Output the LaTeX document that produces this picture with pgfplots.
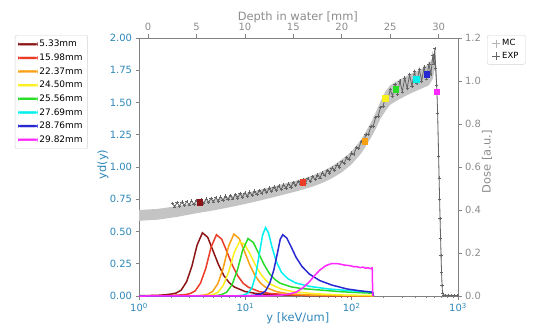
\documentclass[border=0pt]{standalone}
\usepackage{fontspec}
\setmainfont{DejaVu Sans}
\usepackage{pgfplots}
\pgfplotsset{compat=1.18}
\definecolor{tickblue}{RGB}{45,135,185}
\definecolor{spine}{RGB}{130,130,130}
\definecolor{labgray}{RGB}{140,140,140}
\definecolor{bandgray}{RGB}{196,196,196}
\definecolor{expgray}{RGB}{100,100,100}
\definecolor{legbox}{RGB}{210,210,210}
\definecolor{specDR}{RGB}{140,22,22}
\definecolor{specR}{RGB}{235,60,40}
\definecolor{specO}{RGB}{250,160,20}
\definecolor{specY}{RGB}{250,240,30}
\definecolor{specG}{RGB}{40,220,40}
\definecolor{specC}{RGB}{0,240,240}
\definecolor{specB}{RGB}{40,40,210}
\definecolor{specM}{RGB}{255,40,255}
\begin{document}
\begin{tikzpicture}[x=1bp,y=1bp]
\path[use as bounding box] (0,0) rectangle (537,324);
\begin{axis}[
  at={(139bp,28bp)}, anchor=south west, scale only axis,
  width=319bp, height=258bp,
  xmode=log, xmin=1, xmax=1000, ymin=0, ymax=2,
  axis line style={spine, line width=0.8bp},
  xtick pos=left, ytick pos=left,
  tick align=outside,
  major tick length=3.5bp, minor tick length=2bp,
  every tick/.style={spine, line width=0.6bp},
  xtick={1,10,100,1000},
  xticklabels={10\textsuperscript{0},10\textsuperscript{1},10\textsuperscript{2},10\textsuperscript{3}},
  minor xtick={2,3,4,5,6,7,8,9,20,30,40,50,60,70,80,90,200,300,400,500,600,700,800,900},
  ytick={0,0.25,0.5,0.75,1,1.25,1.5,1.75,2},
  /pgf/number format/assume math mode=true,
  yticklabel style={/pgf/number format/fixed, /pgf/number format/fixed zerofill, /pgf/number format/precision=2, color=tickblue},
  xticklabel style={color=tickblue},
  tick label style={font=\fontsize{10}{12}\selectfont},
  xlabel={y [keV/um]}, ylabel={yd(y)},
  label style={font=\fontsize{11.5}{13}\selectfont, color=tickblue},
  xlabel style={at={(axis description cs:0.498,-0.088)}, anchor=center},
  ylabel style={at={(axis description cs:-0.113,0.51)}, anchor=center, rotate=0},
  legend cell align=left,
  legend image code/.code={\fill (0bp,-0.95bp) rectangle (19bp,0.95bp);},
  legend style={at={(-0.389,1.0116)}, anchor=north west, draw=legbox, rounded corners=2bp,
    font=\fontsize{9}{10.5}\selectfont, row sep=1.5bp, inner xsep=3bp, inner ysep=3bp},
]
\addlegendimage{color=specDR}\addlegendentry{5.33mm}
\addlegendimage{color=specR}\addlegendentry{15.98mm}
\addlegendimage{color=specO}\addlegendentry{22.37mm}
\addlegendimage{color=specY}\addlegendentry{24.50mm}
\addlegendimage{color=specG}\addlegendentry{25.56mm}
\addlegendimage{color=specC}\addlegendentry{27.69mm}
\addlegendimage{color=specB}\addlegendentry{28.76mm}
\addlegendimage{color=specM}\addlegendentry{29.82mm}
\addplot[draw=specDR, line width=1.5bp, forget plot] coordinates {(1,0.002) (1.5,0.005) (1.8,0.01) (2.0,0.015) (2.22,0.022) (2.49,0.045) (2.80,0.11) (3.14,0.23) (3.52,0.395) (3.95,0.49) (4.43,0.455) (4.97,0.35) (5.58,0.245) (6.26,0.16) (7.02,0.105) (7.88,0.07) (9.92,0.035) (12.5,0.02) (19.8,0.008) (40,0.003) (100,0.001) (160,0)};
\addplot[draw=specR, line width=1.5bp, forget plot] coordinates {(1,0.001) (2,0.004) (2.68,0.01) (3.01,0.018) (3.38,0.04) (3.79,0.10) (4.25,0.215) (4.77,0.38) (5.35,0.475) (6.0,0.44) (6.74,0.34) (7.56,0.237) (8.48,0.157) (9.51,0.10) (10.67,0.068) (13.44,0.035) (16.92,0.02) (26.8,0.008) (60,0.003) (160,0)};
\addplot[draw=specO, line width=1.5bp, forget plot] coordinates {(1,0) (3.5,0.002) (3.91,0.005) (4.38,0.012) (4.92,0.035) (5.52,0.096) (6.19,0.216) (6.95,0.384) (7.8,0.48) (8.75,0.446) (9.82,0.346) (11.02,0.24) (12.36,0.158) (13.87,0.10) (15.56,0.067) (19.59,0.034) (24.66,0.019) (39.1,0.008) (80,0.003) (160,0)};
\addplot[draw=specY, line width=1.5bp, forget plot] coordinates {(1,0) (4.0,0.002) (4.41,0.004) (4.95,0.01) (5.55,0.03) (6.23,0.085) (6.99,0.19) (7.84,0.335) (8.8,0.42) (9.87,0.40) (11.08,0.325) (12.43,0.24) (13.95,0.17) (15.65,0.12) (17.56,0.088) (22.1,0.052) (27.8,0.035) (44.1,0.018) (80,0.008) (150,0.004) (160,0)};
\addplot[draw=specG, line width=1.5bp, forget plot] coordinates {(1,0) (4.8,0.001) (5.31,0.003) (5.96,0.01) (6.69,0.03) (7.50,0.088) (8.42,0.20) (9.44,0.356) (10.6,0.445) (11.89,0.415) (13.35,0.33) (14.98,0.245) (16.8,0.175) (18.85,0.13) (21.15,0.10) (26.6,0.072) (33.5,0.058) (53.1,0.045) (80,0.033) (120,0.026) (155,0.022) (160,0)};
\addplot[draw=specC, line width=1.5bp, forget plot] coordinates {(1,0) (8,0.001) (9.5,0.006) (10.5,0.02) (11.5,0.06) (12.5,0.16) (13.5,0.32) (14.5,0.47) (15.5,0.53) (16.5,0.49) (17.8,0.38) (19.5,0.27) (21.8,0.185) (25,0.135) (30,0.10) (40,0.075) (60,0.055) (100,0.04) (150,0.032) (157,0.03) (160,0)};
\addplot[draw=specB, line width=1.5bp, forget plot] coordinates {(1,0) (10,0.001) (12,0.005) (14,0.015) (15.5,0.04) (17,0.10) (18.5,0.2) (20,0.33) (21.3,0.44) (22.5,0.475) (24.5,0.45) (27,0.38) (30,0.30) (34,0.23) (40,0.17) (50,0.12) (65,0.085) (90,0.055) (120,0.04) (155,0.03) (158,0.028) (160,0)};
\addplot[draw=specM, line width=1.5bp, forget plot] coordinates {(1,0) (15,0.001) (20,0.004) (25,0.012) (30,0.03) (35,0.065) (40,0.11) (45,0.16) (50,0.20) (57,0.235) (65,0.252) (75,0.25) (85,0.24) (95,0.236) (100,0.232) (105,0.226) (110,0.229) (120,0.22) (128,0.224) (135,0.215) (142,0.219) (150,0.212) (156,0.218) (157,0.10) (158,0)};
\end{axis}
\begin{axis}[
  at={(139bp,28bp)}, anchor=south west, scale only axis,
  width=319bp, height=258bp,
  xmin=-0.93, xmax=32, ymin=0, ymax=1.2,
  axis x line*=top, axis y line*=right,
  axis line style={spine, line width=0.8bp},
  tick align=outside,
  major tick length=3.5bp,
  every tick/.style={spine, line width=0.6bp},
  xtick={0,5,10,15,20,25,30},
  ytick={0,0.2,0.4,0.6,0.8,1.0,1.2},
  /pgf/number format/assume math mode=true,
  yticklabel style={/pgf/number format/fixed, /pgf/number format/fixed zerofill, /pgf/number format/precision=1, color=labgray},
  xticklabel style={color=labgray},
  tick label style={font=\fontsize{10}{12}\selectfont},
  xlabel={Depth in water [mm]}, ylabel={Dose [a.u.]},
  label style={font=\fontsize{11.5}{13}\selectfont, color=labgray},
  xlabel style={at={(axis description cs:0.498,1.08)}, anchor=center},
  ylabel style={at={(axis description cs:1.091,0.52)}, anchor=center, rotate=0},
  legend cell align=left,
  legend style={at={(1.091,1.0116)}, anchor=north west, draw=legbox, rounded corners=2bp,
    font=\fontsize{8.5}{10}\selectfont, row sep=0.8bp, inner xsep=5bp, inner ysep=2.5bp},
]
\addplot[draw=none, fill=bandgray, forget plot] coordinates {
(-0.93,0.400) (1,0.405) (3,0.418) (5,0.435) (7,0.450) (9,0.468) (11,0.488) (13,0.510) (15,0.533) (16,0.545) (17,0.561) (18,0.580) (19,0.604) (20,0.635) (21,0.672) (22,0.727) (23,0.805) (23.5,0.853) (24,0.905) (24.5,0.950) (25,0.980) (26,1.007) (27,1.030) (28,1.050) (29,1.080) (29.4,1.110) (29.6,1.140) (29.8,1.040) (30.0,0.640) (30.2,0.220) (30.4,0.030) (30.6,0.005)
(30.6,0.0) (30.4,0.010) (30.2,0.180) (30.0,0.560) (29.8,0.960) (29.6,1.060) (29.4,1.010) (29,0.980) (28,0.960) (27,0.940) (26,0.917) (25,0.890) (24.5,0.860) (24,0.825) (23.5,0.777) (23,0.735) (22,0.663) (21,0.612) (20,0.575) (19,0.548) (18,0.526) (17,0.509) (16,0.495) (15,0.483) (13,0.460) (11,0.438) (9,0.418) (7,0.400) (5,0.385) (3,0.368) (1,0.355) (-0.93,0.350)};
\addplot[expgray, line width=0.8bp, mark=+, mark size=1.6bp, mark options={line width=0.5bp}, forget plot] coordinates {
(2.5,0.431) (2.75,0.415) (3.0,0.434) (3.25,0.418) (3.5,0.437) (3.75,0.421) (4.0,0.440) (4.25,0.424) (4.5,0.443) (4.75,0.427) (5.0,0.446) (5.25,0.429) (5.5,0.449) (5.75,0.432) (6.0,0.452) (6.25,0.435) (6.5,0.455) (6.75,0.438) (7.0,0.458) (7.25,0.442) (7.5,0.461) (7.75,0.445) (8.0,0.465) (8.25,0.449) (8.5,0.468) (8.75,0.452) (9.0,0.472) (9.25,0.456) (9.5,0.476) (9.75,0.460) (10.0,0.480) (10.25,0.464) (10.5,0.484) (10.75,0.468) (11.0,0.488) (11.25,0.472) (11.5,0.492) (11.75,0.477) (12.0,0.497) (12.25,0.481) (12.5,0.502) (12.75,0.486) (13.0,0.507) (13.25,0.491) (13.5,0.512) (13.75,0.496) (14.0,0.517) (14.25,0.502) (14.5,0.522) (14.75,0.507) (15.0,0.528) (15.25,0.513) (15.5,0.534) (15.75,0.519) (16.0,0.540) (16.25,0.526) (16.5,0.547) (16.75,0.533) (17.0,0.555) (17.25,0.541) (17.5,0.563) (17.75,0.550) (18.0,0.573) (18.25,0.560) (18.5,0.584) (18.75,0.572) (19.0,0.596) (19.25,0.585) (19.5,0.610) (19.75,0.600) (20.0,0.626) (20.25,0.617) (20.5,0.644) (20.75,0.636) (21.0,0.665) (21.25,0.659) (21.5,0.690) (21.75,0.686) (22.0,0.719) (22.25,0.717) (22.5,0.752) (22.75,0.752) (23.0,0.789) (23.25,0.791) (23.5,0.831) (23.75,0.836) (24.0,0.877) (24.25,0.881) (24.5,0.925) (24.75,0.91) (25.0,0.96) (25.25,0.93) (25.5,0.985) (25.75,0.94) (26.0,1.0) (26.25,0.95) (26.5,1.015) (26.75,0.965) (27.0,1.03) (27.25,0.975) (27.5,1.045) (27.75,0.99) (28.0,1.055) (28.25,1.0) (28.5,1.065) (28.75,1.01) (29.0,1.08) (29.2,1.03) (29.4,1.12) (29.5,1.08) (29.6,1.15) (29.7,1.06) (29.8,0.98) (29.9,0.85) (30.0,0.65) (30.05,0.55) (30.1,0.45) (30.15,0.36) (30.2,0.27) (30.25,0.19) (30.3,0.11) (30.35,0.05) (30.4,0.015) (30.5,0.005) (30.7,0.003) (31.0,0.004) (31.3,0.002) (31.6,0.003) (31.9,0.002)};
\addplot[only marks, mark=square*, mark size=2.8bp, specDR, forget plot] coordinates {(5.33,0.437)};
\addplot[only marks, mark=square*, mark size=2.8bp, specR, forget plot] coordinates {(15.98,0.530)};
\addplot[only marks, mark=square*, mark size=2.8bp, specO, forget plot] coordinates {(22.37,0.720)};
\addplot[only marks, mark=square*, mark size=2.8bp, specY, forget plot] coordinates {(24.50,0.921)};
\addplot[only marks, mark=square*, mark size=2.8bp, specG, forget plot] coordinates {(25.56,0.962)};
\addplot[only marks, mark=square*, mark size=2.8bp, specC, forget plot] coordinates {(27.69,1.008)};
\addplot[only marks, mark=square*, mark size=2.8bp, specB, forget plot] coordinates {(28.76,1.033)};
\addplot[only marks, mark=square*, mark size=2.8bp, specM, forget plot] coordinates {(29.82,0.950)};
\addlegendimage{only marks, mark=+, mark size=4bp, color=bandgray!80!gray}
\addlegendentry{MC}
\addlegendimage{only marks, mark=+, mark size=4bp, color=expgray}
\addlegendentry{EXP}
\end{axis}
\end{tikzpicture}
\end{document}
